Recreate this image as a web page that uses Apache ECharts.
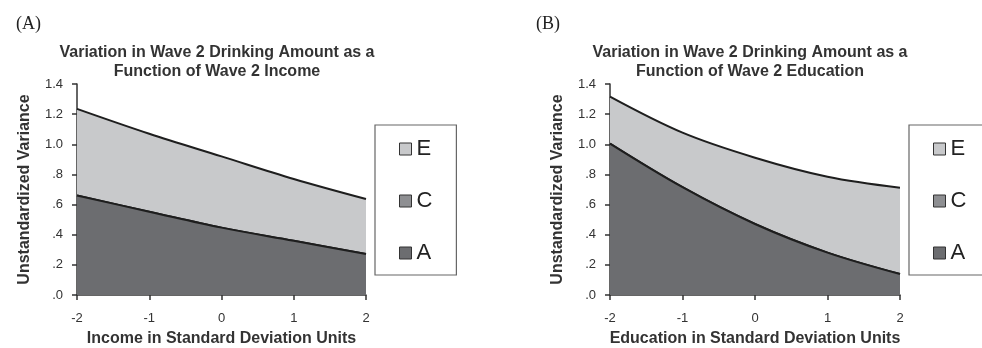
<!DOCTYPE html>
<html><head><meta charset="utf-8">
<script src="https://cdn.jsdelivr.net/npm/echarts@6/dist/echarts.min.js"></script>
<style>html,body{margin:0;padding:0;background:#fff}#c{width:982px;height:348px}</style>
</head><body><div id="c"></div>
<script>
var categories = ['-2', '-1', '0', '1', '2'];
var yTicks = [0, 0.2, 0.4, 0.6, 0.8, 1.0, 1.2, 1.4];
// Panel A: Income
var incomeA = [0.66, 0.553, 0.447, 0.36, 0.272];
var incomeC = [0, 0, 0, 0, 0];
var incomeE = [0.575, 0.517, 0.473, 0.41, 0.365];
// Panel B: Education
var eduA = [1.004, 0.715, 0.471, 0.281, 0.139];
var eduC = [0, 0, 0, 0, 0];
var eduE = [0.312, 0.362, 0.44, 0.504, 0.573];
var titlesA = ['Variation in Wave 2 Drinking Amount as a', 'Function of Wave 2 Income'];
var titlesB = ['Variation in Wave 2 Drinking Amount as a', 'Function of Wave 2 Education'];

var colA = '#6c6d70', colC = '#8e8f92', colE = '#c8c9cb', lineCol = '#1e1e1e';
var font = 'Liberation Sans, Arial, sans-serif';

function fmt(v) { var s = (+v).toFixed(1); return v < 1 ? s.replace(/^0/, '') : s; }

function xAxis(idx, name) {
  return {
    gridIndex: idx, type: 'category', data: categories, boundaryGap: false,
    name: name, nameLocation: 'middle', nameGap: 36,
    nameTextStyle: { fontFamily: font, fontWeight: 'bold', fontSize: 16, color: '#333' },
    axisLine: { lineStyle: { color: '#333', width: 1.5 } },
    axisTick: { show: true, length: 5, lineStyle: { color: '#333', width: 1.5 } },
    axisLabel: { fontFamily: font, fontSize: 13, color: '#333', margin: 17 },
    splitLine: { show: false }
  };
}
function yAxis(idx) {
  return {
    gridIndex: idx, type: 'value', min: yTicks[0], max: yTicks[yTicks.length - 1], interval: 0.2,
    name: 'Unstandardized Variance', nameLocation: 'middle', nameGap: 44,
    nameTextStyle: { fontFamily: font, fontWeight: 'bold', fontSize: 16, color: '#333' },
    axisLine: { show: true, lineStyle: { color: '#333', width: 1.5 } },
    axisTick: { show: true, length: 5, lineStyle: { color: '#333', width: 1.5 } },
    axisLabel: { fontFamily: font, fontSize: 13, color: '#333', margin: 14, formatter: fmt },
    splitLine: { show: false }
  };
}
function series(idx, name, data, color, stack) {
  return {
    type: 'line', name: name, xAxisIndex: idx, yAxisIndex: idx, data: data, stack: stack,
    smooth: 0.35, symbol: 'none', z: name === 'E' ? 1 : (name === 'C' ? 2 : 3),
    lineStyle: { color: lineCol, width: 2 },
    itemStyle: { color: color, borderColor: '#333', borderWidth: 1 },
    areaStyle: { color: color, opacity: 1 }
  };
}
function legend(left) {
  return {
    data: ['E', 'C', 'A'], orient: 'vertical', left: left, top: 125,
    padding: [13, 24, 11, 24], itemGap: 30, itemWidth: 12, itemHeight: 12,
    icon: 'rect', backgroundColor: '#fff', borderColor: '#666', borderWidth: 1.2,
    itemStyle: { borderColor: '#333', borderWidth: 1 },
    textStyle: { fontFamily: font, fontSize: 22, lineHeight: 20, color: '#222', padding: [0, 0, 0, 0] },
    selectedMode: false
  };
}
function title(cx, lines) {
  return {
    text: lines.join('\n'), left: cx, top: 38, textAlign: 'center',
    textStyle: { fontFamily: font, fontWeight: 'bold', fontSize: 16, lineHeight: 19, color: '#333' }
  };
}

var chart = echarts.init(document.getElementById('c'), null, { renderer: 'canvas' });
chart.setOption({
  animation: false,
  title: [
    title(212, titlesA), title(745, titlesB),
    { text: '(A)', left: 11, top: 10, textStyle: { fontFamily: 'Liberation Serif, Times New Roman, serif', fontWeight: 'normal', fontSize: 18, color: '#222' } },
    { text: '(B)', left: 531, top: 10, textStyle: { fontFamily: 'Liberation Serif, Times New Roman, serif', fontWeight: 'normal', fontSize: 18, color: '#222' } }
  ],
  legend: [legend(375), legend(909)],
  grid: [
    { left: 77, top: 84, width: 289, height: 211, containLabel: false, outerBoundsMode: 'none' },
    { left: 610, top: 84, width: 290, height: 211, containLabel: false, outerBoundsMode: 'none' }
  ],
  xAxis: [xAxis(0, 'Income in Standard Deviation Units'), xAxis(1, 'Education in Standard Deviation Units')],
  yAxis: [yAxis(0), yAxis(1)],
  series: [
    series(0, 'A', incomeA, colA, 'a'), series(0, 'C', incomeC, colC, 'a'), series(0, 'E', incomeE, colE, 'a'),
    series(1, 'A', eduA, colA, 'b'), series(1, 'C', eduC, colC, 'b'), series(1, 'E', eduE, colE, 'b')
  ]
});
</script></body></html>
